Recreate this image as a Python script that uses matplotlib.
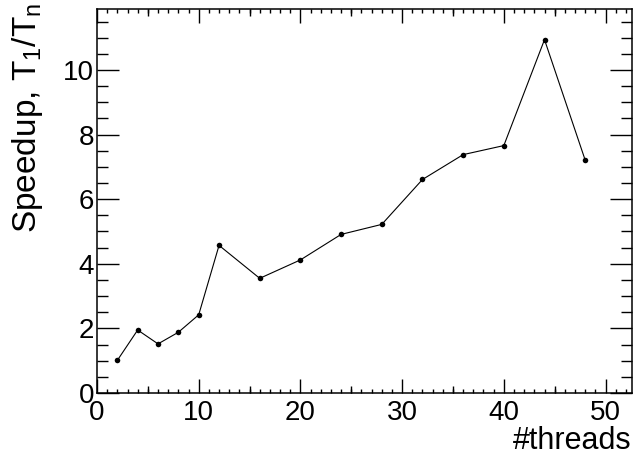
import numpy as np
import matplotlib
matplotlib.use('Agg')
import matplotlib.pyplot as plt
from matplotlib.ticker import MultipleLocator

plt.rcParams['font.family'] = ['Liberation Sans', 'DejaVu Sans']
plt.rcParams['mathtext.fontset'] = 'custom'
plt.rcParams['mathtext.rm'] = 'Liberation Sans'
plt.rcParams['mathtext.it'] = 'Liberation Sans'

# measured speedup vs. number of threads
threads = [2, 4, 6, 8, 10, 12, 16, 20, 24, 28, 32, 36, 40, 44, 48]
speedup = [1.01, 1.95, 1.52, 1.88, 2.42, 4.57, 3.55, 4.12, 4.91, 5.22,
           6.61, 7.38, 7.66, 10.94, 7.21]

fig = plt.figure(figsize=(6.34, 4.55), dpi=100)
ax = fig.add_axes([0.153, 0.1363, 0.8438, 0.8447])

ax.plot(threads, speedup, color='black', lw=0.8, marker='o', ms=4,
        markeredgewidth=0)

ax.set_xlim(0, 52.6)
ax.set_ylim(0, 11.9)

for s in ax.spines.values():
    s.set_linewidth(1.1)

ax.xaxis.set_major_locator(MultipleLocator(10))
ax.xaxis.set_minor_locator(MultipleLocator(1))
ax.yaxis.set_major_locator(MultipleLocator(2))
ax.yaxis.set_minor_locator(MultipleLocator(0.5))
ax.tick_params(which='both', direction='in', top=True, right=True,
               labelsize=20, width=1.0)
ax.tick_params(axis='x', which='major', length=10, pad=5)
ax.tick_params(axis='x', which='minor', length=3)
ax.tick_params(axis='y', which='major', length=16, pad=2)
ax.tick_params(axis='y', which='minor', length=8)

# medium ticks at the half decades on the x axis
for side in ('bottom', 'top'):
    sec = ax.secondary_xaxis(side)
    sec.set_xticks(np.arange(5, 55, 10))
    sec.tick_params(direction='in', length=5, width=1.0,
                    labelbottom=False, labeltop=False)
    for s in sec.spines.values():
        s.set_visible(False)

ax.set_xlabel('#threads', fontsize=22, loc='right')
ax.xaxis.set_label_coords(1.0, -0.146)
ax.xaxis.label.set_va('baseline')

fig.text(10 / 634, 1 - 3 / 455, r'Speedup, T$_1$/T$_n$', fontsize=24,
         rotation=90, ha='left', va='top')

fig.savefig('out.png', dpi=100)
